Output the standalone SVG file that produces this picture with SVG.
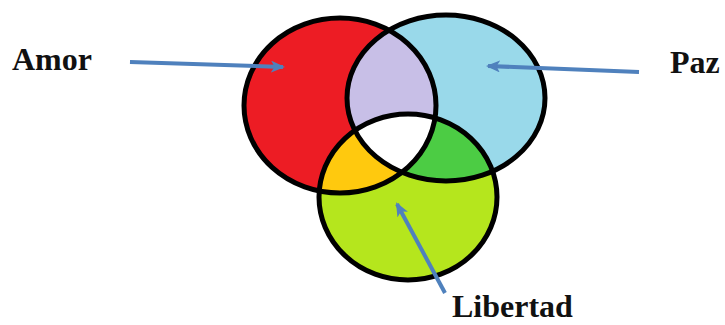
<svg xmlns="http://www.w3.org/2000/svg" width="725" height="325" viewBox="0 0 725 325">
<style>
.lbl{font-family:"Liberation Serif","DejaVu Serif",serif;font-weight:bold;font-size:32px;fill:#111}
.edge{stroke:#4F81BD;stroke-width:4;fill:none}
.ring{fill:none;stroke:#000;stroke-width:5}
</style>
<defs>
<marker id="ah" viewBox="0 0 14 12" refX="12" refY="6" markerWidth="14" markerHeight="12" markerUnits="userSpaceOnUse" orient="auto">
<path d="M0,0 L14,6 L0,12 L3.5,6 Z" fill="#4F81BD"/>
</marker>
<clipPath id="cR"><ellipse cx="340" cy="105.5" rx="96" ry="87.5"/></clipPath>
<clipPath id="cB"><ellipse cx="446" cy="98" rx="99" ry="83"/></clipPath>
</defs>
<g id="amor-set"><ellipse cx="340" cy="105.5" rx="96" ry="87.5" fill="#ED1C24"/></g>
<g id="paz-set"><ellipse cx="446" cy="98" rx="99" ry="83" fill="#99D9EA"/></g>
<g id="libertad-set"><ellipse cx="408" cy="197" rx="89" ry="83" fill="#B5E61D"/></g>
<g id="overlaps">
<g clip-path="url(#cR)"><ellipse cx="446" cy="98" rx="99" ry="83" fill="#C8BFE7"/></g>
<g clip-path="url(#cR)"><ellipse cx="408" cy="197" rx="89" ry="83" fill="#FFC90E"/></g>
<g clip-path="url(#cB)"><ellipse cx="408" cy="197" rx="89" ry="83" fill="#4CCC44"/></g>
<g clip-path="url(#cR)"><g clip-path="url(#cB)"><ellipse cx="408" cy="197" rx="89" ry="83" fill="#FFFFFF"/></g></g>
</g>
<g id="outlines">
<ellipse class="ring" cx="340" cy="105.5" rx="96" ry="87.5"/>
<ellipse class="ring" cx="446" cy="98" rx="99" ry="83"/>
<ellipse class="ring" cx="408" cy="197" rx="89" ry="83"/>
</g>
<g id="labels">
<text class="lbl" x="12" y="70">Amor</text>
<text class="lbl" x="670" y="73">Paz</text>
<text class="lbl" x="452" y="317">Libertad</text>
</g>
<g id="connectors">
<line class="edge" x1="130" y1="62" x2="283" y2="67" marker-end="url(#ah)"/>
<line class="edge" x1="639" y1="72" x2="488" y2="66" marker-end="url(#ah)"/>
<line class="edge" x1="445" y1="293" x2="397" y2="204" marker-end="url(#ah)"/>
</g>
</svg>
